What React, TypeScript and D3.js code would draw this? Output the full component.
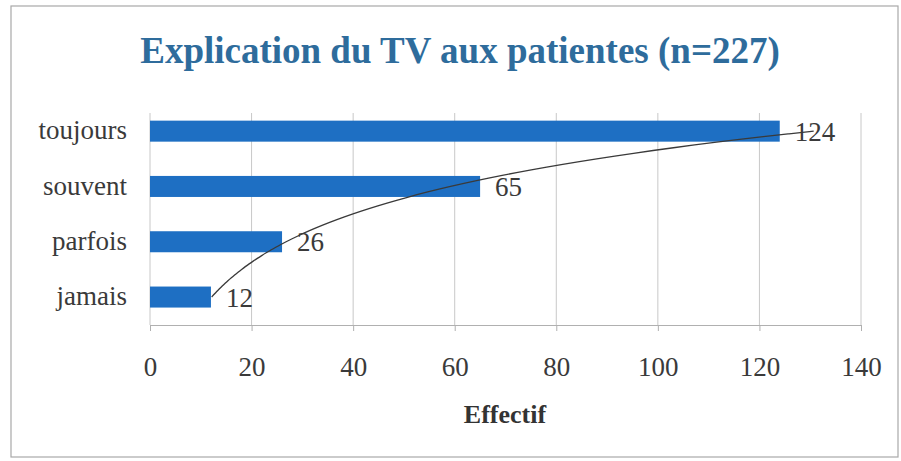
import React, { useRef, useEffect } from 'react';
import * as d3 from 'd3';

// catégories (de haut en bas) et effectifs
const categories = ['toujours', 'souvent', 'parfois', 'jamais'];
const effectifs = [124, 65, 26, 12];
const xTicks = [0, 20, 40, 60, 80, 100, 120, 140];
const titre = 'Explication du TV aux patientes (n=227)';
const axeX = 'Effectif';

const W = 901;
const H = 461;
const FONT = '"Liberation Serif", "Times New Roman", serif';

const App = () => {
  const ref = useRef<SVGSVGElement>(null);

  useEffect(() => {
    const svg = d3.select(ref.current);
    svg.selectAll('*').remove();

    // cadre du graphique
    svg.append('rect')
      .attr('x', 11).attr('y', 6)
      .attr('width', 887).attr('height', 451)
      .attr('fill', '#fff')
      .attr('stroke', '#a8a8a8')
      .attr('stroke-width', 1.2);

    const x = d3.scaleLinear().domain([0, 140]).range([150, 861]);
    const y = d3.scaleBand<string>()
      .domain(categories)
      .range([103.5, 324.7])
      .paddingInner(0.62)
      .paddingOuter(0.31);
    const axisY = 325;
    const gridTop = 113;

    // titre
    svg.append('text')
      .attr('x', 460).attr('y', 63)
      .attr('text-anchor', 'middle')
      .style('font-family', FONT)
      .style('font-size', '37px')
      .style('font-weight', 'bold')
      .style('fill', '#2e6c9c')
      .text(titre);

    // grille verticale
    svg.append('g').selectAll('line')
      .data(xTicks)
      .enter().append('line')
      .attr('x1', d => x(d)).attr('x2', d => x(d))
      .attr('y1', gridTop).attr('y2', axisY)
      .attr('stroke', '#c8c8c8')
      .attr('stroke-width', 1);

    // axe X
    const gx = svg.append('g')
      .attr('transform', `translate(0, ${axisY})`)
      .call(d3.axisBottom(x).tickValues(xTicks).tickSize(6).tickPadding(26));
    gx.select('.domain').attr('stroke', '#b0b0b0');
    gx.selectAll('.tick line').attr('stroke', '#b0b0b0');
    gx.selectAll('.tick text')
      .style('font-family', FONT)
      .style('font-size', '27px')
      .style('fill', '#3a3a3a');

    svg.append('text')
      .attr('x', 505).attr('y', 423)
      .attr('text-anchor', 'middle')
      .style('font-family', FONT)
      .style('font-size', '26px')
      .style('font-weight', 'bold')
      .style('fill', '#333')
      .text(axeX);

    // barres
    svg.append('g').selectAll('rect')
      .data(effectifs)
      .enter().append('rect')
      .attr('x', x(0))
      .attr('y', (d, i) => y(categories[i]) as number)
      .attr('width', d => x(d) - x(0))
      .attr('height', y.bandwidth())
      .attr('fill', '#1e6fc3');

    // libellés des catégories
    svg.append('g').selectAll('text')
      .data(categories)
      .enter().append('text')
      .attr('x', 127)
      .attr('y', d => (y(d) as number) + y.bandwidth() / 2)
      .attr('dy', '0.3em')
      .attr('text-anchor', 'end')
      .style('font-family', FONT)
      .style('font-size', '27px')
      .style('fill', '#3a3a3a')
      .text(d => d);

    // courbe de tendance exponentielle (jamais = 1 ... toujours = 4)
    const idx = categories.map((c, i) => categories.length - i);
    const lnv = effectifs.map(v => Math.log(v));
    const mi = d3.mean(idx) as number;
    const ml = d3.mean(lnv) as number;
    const b = d3.sum(idx.map((t, i) => (t - mi) * (lnv[i] - ml))) / d3.sum(idx.map(t => (t - mi) ** 2));
    const a = ml - b * mi;
    const yIdx = d3.scaleLinear()
      .domain([1, categories.length])
      .range([
        (y(categories[categories.length - 1]) as number) + y.bandwidth() / 2,
        (y(categories[0]) as number) + y.bandwidth() / 2,
      ]);
    const trend = d3.range(1, 4.0001, 0.05).map(t => [Math.exp(a + b * t), t]);
    svg.append('path')
      .datum(trend)
      .attr('d', d3.line<number[]>().x(d => x(d[0])).y(d => yIdx(d[1])).curve(d3.curveBasis))
      .attr('fill', 'none')
      .attr('stroke', '#3a3a3a')
      .attr('stroke-width', 1.3);

    // étiquettes de valeurs
    svg.append('g').selectAll('text')
      .data(effectifs)
      .enter().append('text')
      .attr('x', d => x(d) + 15)
      .attr('y', (d, i) => (y(categories[i]) as number) + y.bandwidth() / 2)
      .attr('dy', '0.35em')
      .style('font-family', FONT)
      .style('font-size', '27px')
      .style('fill', '#3a3a3a')
      .text(d => d);
  }, []);

  return <svg ref={ref} width={W} height={H} style={{ position: 'fixed', left: 0, top: 0 }}></svg>;
};

export default App;
